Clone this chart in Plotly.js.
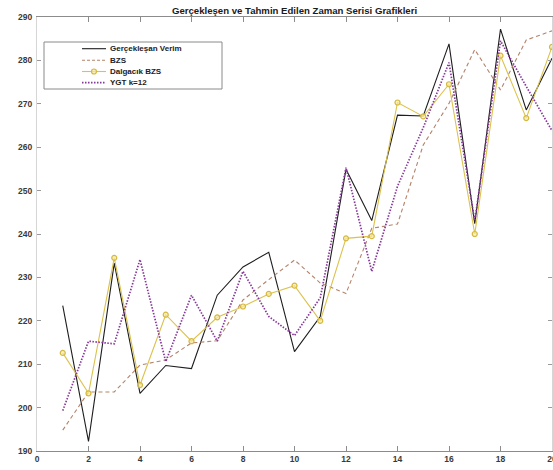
<!DOCTYPE html>
<html>
<head>
<meta charset="utf-8">
<script src="https://cdn.plot.ly/plotly-3.0.1.min.js"></script>
<style>
  html, body { margin: 0; padding: 0; background: #ffffff; }
  #chart { width: 553px; height: 470px; }
</style>
</head>
<body>
<div id="chart"></div>
<script>
// Time index (periods)
const periods = [1, 2, 3, 4, 5, 6, 7, 8, 9, 10, 11, 12, 13, 14, 15, 16, 17, 18, 19, 20];

// Observed yield
const gerceklesen = [223.5, 192.2, 233.3, 203.3, 209.7, 209.0, 225.9, 232.4, 235.8, 212.9,
                     221.0, 254.9, 243.1, 267.4, 267.2, 283.8, 242.4, 287.2, 268.6, 280.5];

// Fuzzy time series forecast
const bzs = [194.8, 203.6, 203.6, 209.8, 211.0, 214.9, 215.4, 224.8, 229.5, 234.0,
             228.7, 226.3, 241.3, 242.3, 260.5, 270.1, 282.5, 273.2, 284.7, 286.8];

// Wavelet fuzzy time series forecast
const dalgacik = [212.6, 203.3, 234.5, 205.2, 221.4, 215.3, 220.8, 223.3, 226.2, 228.1,
                  220.0, 239.0, 239.5, 270.3, 267.1, 274.5, 240.0, 281.1, 266.7, 283.1];

// ANN forecast, k = 12
const ygt = [199.3, 215.3, 214.7, 234.1, 210.6, 225.9, 215.3, 231.4, 221.0, 216.6,
             225.3, 255.3, 231.4, 251.0, 264.5, 279.5, 243.0, 284.5, 274.0, 263.8];

const seriesNames = ['Gerçekleşan Verim', 'BZS', 'Dalgacık BZS', 'YGT k=12'];
const xTicks = [0, 2, 4, 6, 8, 10, 12, 14, 16, 18, 20];
const yTicks = [190, 200, 210, 220, 230, 240, 250, 260, 270, 280, 290];

const C_BLACK = '#1e1e1e';
const C_BZS = '#b3836a';
const C_DALG = '#dcc24c';
const C_YGT = '#86379a';
const M_FILL = 'rgba(246,234,170,0.7)';
const M_EDGE = '#d6b83e';
const FONT = 'Liberation Sans, Arial, sans-serif';

const traces = [
  { x: periods, y: gerceklesen, name: seriesNames[0], mode: 'lines',
    line: { color: C_BLACK, width: 1.1 } },
  { x: periods, y: bzs, name: seriesNames[1], mode: 'lines',
    line: { color: C_BZS, width: 1.1, dash: '4px,3px' } },
  { x: periods, y: dalgacik, name: seriesNames[2], mode: 'lines+markers',
    line: { color: C_DALG, width: 1.1 },
    marker: { symbol: 'circle', size: 5, color: M_FILL,
              line: { color: M_EDGE, width: 1.2 } } },
  { x: periods, y: ygt, name: seriesNames[3], mode: 'lines',
    line: { color: C_YGT, width: 1.7, dash: '1.5px,1.5px' } }
];

// Plot area geometry (pixels) used to place the boxed legend
const W = 553, H = 470;
const M = { l: 37, r: 1, t: 17, b: 19 };
const PW = W - M.l - M.r, PH = H - M.t - M.b;
const px = v => (v - M.l) / PW;
const py = v => (H - M.b - v) / PH;

const legendRows = [48.7, 60.3, 71.5, 82.7];
const sampleX0 = 82, sampleX1 = 106, textX = 108;
const sampleStyles = [
  { color: C_BLACK, width: 1.1, dash: 'solid' },
  { color: C_BZS, width: 1.1, dash: '3px,2px' },
  { color: C_DALG, width: 1.1, dash: 'solid' },
  { color: C_YGT, width: 1.7, dash: '1.5px,1.5px' }
];

const shapes = [
  { type: 'rect', xref: 'paper', yref: 'paper',
    x0: px(44), x1: px(222), y0: py(89), y1: py(42),
    line: { color: '#8a8a8a', width: 1 }, fillcolor: '#ffffff', layer: 'above' }
];
const annotations = [];
legendRows.forEach((ry, i) => {
  shapes.push({ type: 'line', xref: 'paper', yref: 'paper',
    x0: px(sampleX0), x1: px(sampleX1), y0: py(ry), y1: py(ry),
    line: sampleStyles[i], layer: 'above' });
  annotations.push({ xref: 'paper', yref: 'paper', x: px(textX), y: py(ry),
    xanchor: 'left', yanchor: 'middle', showarrow: false,
    text: '<b>' + seriesNames[i] + '</b>',
    font: { family: FONT, size: 8, color: '#222222' } });
});
// marker glyph on the wavelet sample line
shapes.push({ type: 'circle', xref: 'paper', yref: 'paper',
  xsizemode: 'pixel', ysizemode: 'pixel',
  xanchor: px((sampleX0 + sampleX1) / 2), yanchor: py(legendRows[2]),
  x0: -2.5, x1: 2.5, y0: -2.5, y1: 2.5,
  line: { color: M_EDGE, width: 1.2 }, fillcolor: M_FILL, layer: 'above' });

const layout = {
  width: W, height: H,
  margin: { l: M.l, r: M.r, t: M.t, b: M.b, pad: 0, autoexpand: false },
  paper_bgcolor: '#ffffff', plot_bgcolor: '#ffffff',
  showlegend: false,
  title: { text: '<b>Gerçekleşen ve Tahmin Edilen Zaman Serisi Grafikleri</b>',
           xref: 'paper', yref: 'container', x: 0.5, xanchor: 'center',
           y: 1 - 10.5 / H, yanchor: 'middle',
           font: { family: FONT, size: 9.6, color: '#1a1a1a' } },
  xaxis: { range: [0, 20], tickvals: xTicks, ticktext: xTicks.map(String),
           showgrid: false, zeroline: false, showline: true, mirror: 'ticks',
           linecolor: '#8c8c8c', linewidth: 1, ticks: 'inside', ticklen: 5,
           tickcolor: '#8c8c8c', automargin: false, ticklabeloverflow: 'allow',
           tickfont: { family: FONT, size: 8.5, color: '#3a3a3a', weight: 'bold' } },
  yaxis: { range: [190, 290], tickvals: yTicks, ticktext: yTicks.map(String),
           showgrid: false, zeroline: false, showline: true, mirror: 'ticks',
           linecolor: '#d6d6d6', linewidth: 1, ticks: 'inside', ticklen: 4,
           tickcolor: '#9a9a9a', automargin: false, ticklabelstandoff: 2,
           ticklabeloverflow: 'allow',
           tickfont: { family: FONT, size: 8.5, color: '#3a3a3a', weight: 'bold' } },
  shapes: shapes,
  annotations: annotations
};

Plotly.newPlot('chart', traces, layout, { staticPlot: true, displayModeBar: false });
</script>
</body>
</html>
